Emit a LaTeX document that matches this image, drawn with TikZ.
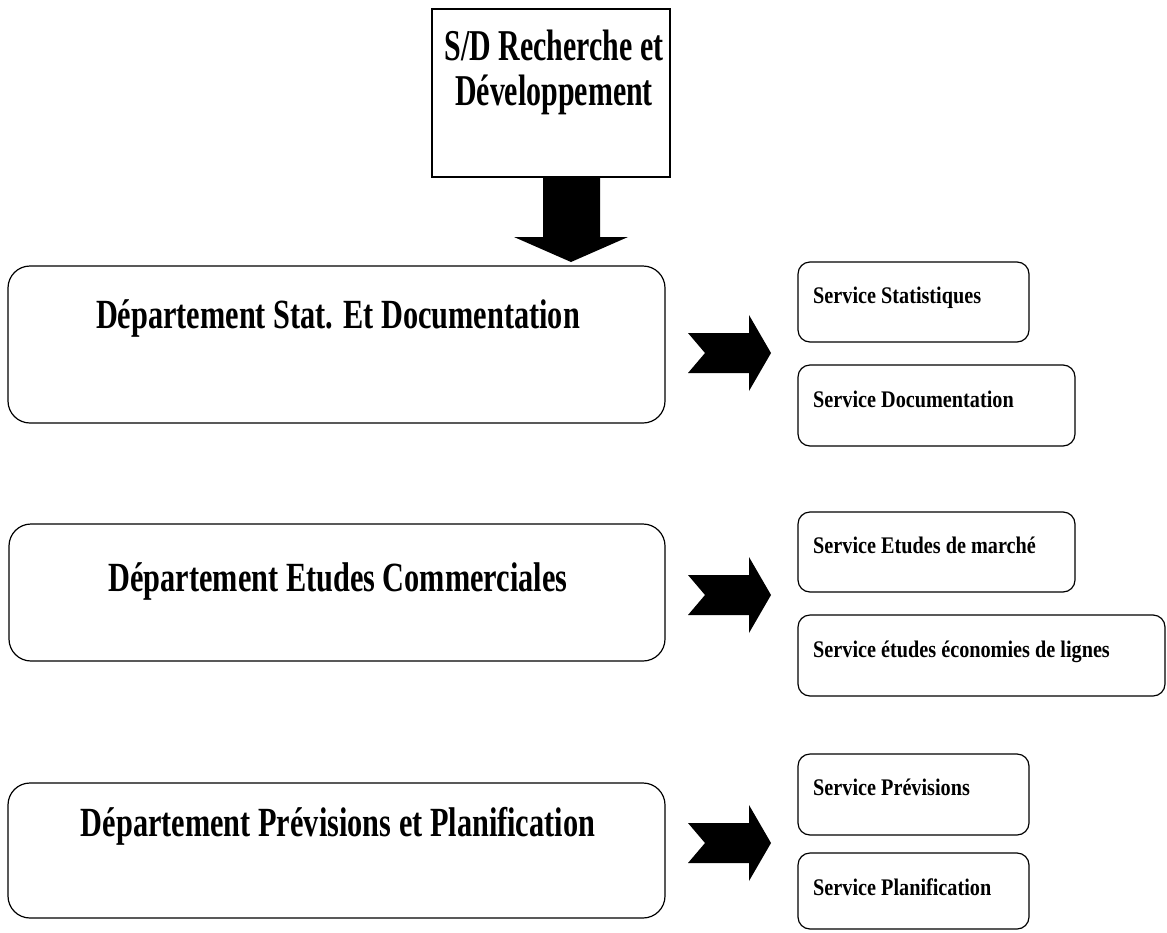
\documentclass[tikz,border=0pt]{standalone}
\usepackage{fontspec}
\setmainfont{Liberation Serif}
\newfontfamily\topfont[FakeStretch=0.68]{Liberation Serif}
\newfontfamily\deptfont[FakeStretch=0.73]{Liberation Serif}
\newfontfamily\servfont[FakeStretch=0.85]{Liberation Serif}
\usetikzlibrary{fit}
\tikzset{
  topbox/.style={draw=black, line width=1.4pt, inner sep=0pt},
  deptbox/.style={draw=black, line width=1.2pt, rounded corners=22pt, inner sep=0pt},
  servbox/.style={draw=black, line width=1.2pt, rounded corners=12pt, inner sep=0pt},
  toptext/.style={font=\topfont\bfseries\fontsize{44}{46}\selectfont, align=center, inner sep=0pt},
  depttext/.style={font=\deptfont\bfseries\fontsize{41.5}{44}\selectfont, inner sep=0pt, anchor=base},
  servtext/.style={font=\servfont\bfseries\fontsize{23.8}{26}\selectfont, inner sep=0pt, anchor=base west},
  chev/.pic={\fill[black] (0,-20) -- (61,-20) -- (61,-38) -- (83,0) -- (61,38) -- (61,20) -- (0,20) -- (17,0) -- cycle;}
}
\begin{document}
\begin{tikzpicture}[x=1pt, y=-1pt]
\useasboundingbox (0,0) rectangle (1167,932);

% top box
\node[topbox, fit={(432,9) (670,177)}] (top) {};
\node[toptext, anchor=base] (toptA) at (554,60) {S/D Recherche et};
\node[toptext, anchor=base] (toptB) at (554,105) {Développement};

% down arrow
\fill[black] (543,177) -- (600,177) -- (600,237) -- (628,237) -- (571,262) -- (514,237) -- (543,237) -- cycle;

% departments
\node[deptbox, fit={(8,266) (665,423)}] (d1) {};
\node[depttext] (d1t) at (338,328) {Département Stat. Et Documentation};
\node[deptbox, fit={(9,524) (665,661)}] (d2) {};
\node[depttext] (d2t) at (338,591) {Département Etudes Commerciales};
\node[deptbox, fit={(8,783) (665,918)}] (d3) {};
\node[depttext] (d3t) at (338,836) {Département Prévisions et Planification};

% chevrons
\pic at (688,353) {chev};
\pic at (688,595) {chev};
\pic at (688,843) {chev};

% services
\node[servbox, fit={(798,262) (1029,342)}] (s1) {};
\node[servtext] (s1t) at (813,303) {Service Statistiques};
\node[servbox, fit={(798,365) (1075,446)}] (s2) {};
\node[servtext] (s2t) at (813,407) {Service Documentation};
\node[servbox, fit={(798,512) (1075,592)}] (s3) {};
\node[servtext] (s3t) at (813,553) {Service Etudes de marché};
\node[servbox, fit={(798,615) (1165,696)}] (s4) {};
\node[servtext] (s4t) at (813,657) {Service études économies de lignes};
\node[servbox, fit={(798,754) (1029,835)}] (s5) {};
\node[servtext] (s5t) at (813,795) {Service Prévisions};
\node[servbox, fit={(798,853) (1029,929)}] (s6) {};
\node[servtext] (s6t) at (813,895) {Service Planification};
\end{tikzpicture}
\end{document}
